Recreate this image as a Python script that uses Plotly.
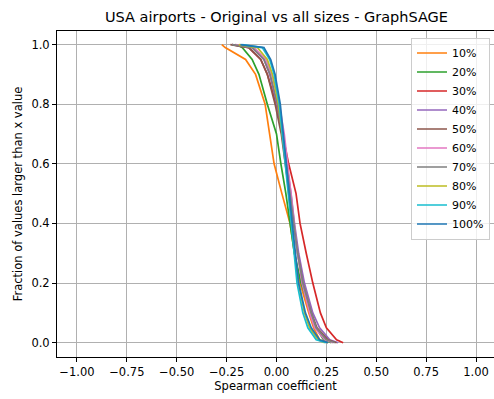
import plotly.graph_objects as go

levels = [1.0, 0.99, 0.95, 0.9, 0.8, 0.7, 0.6, 0.5, 0.4, 0.3, 0.2, 0.1, 0.05, 0.01, 0.0]

s10 = [-0.274, -0.257, -0.155, -0.105, -0.057, -0.034, -0.012, 0.027, 0.068, 0.090, 0.118, 0.162, 0.186, 0.216, 0.258]
s20 = [-0.206, -0.172, -0.122, -0.088, -0.046, 0.0, 0.022, 0.047, 0.068, 0.090, 0.123, 0.174, 0.199, 0.236, 0.275]
s30 = [-0.223, -0.139, -0.079, -0.046, 0.0, 0.030, 0.061, 0.098, 0.118, 0.149, 0.182, 0.220, 0.250, 0.301, 0.334]
s40 = [-0.223, -0.122, -0.063, -0.034, 0.002, 0.030, 0.051, 0.073, 0.090, 0.111, 0.140, 0.182, 0.216, 0.267, 0.309]
s50 = [-0.231, -0.139, -0.079, -0.046, -0.007, 0.024, 0.044, 0.064, 0.084, 0.106, 0.132, 0.174, 0.203, 0.258, 0.301]
s60 = [-0.206, -0.113, -0.054, -0.024, 0.014, 0.039, 0.056, 0.073, 0.088, 0.105, 0.128, 0.166, 0.191, 0.242, 0.284]
s70 = [-0.223, -0.122, -0.063, -0.032, 0.005, 0.030, 0.049, 0.068, 0.086, 0.106, 0.132, 0.174, 0.199, 0.250, 0.292]
s80 = [-0.189, -0.096, -0.046, -0.020, 0.010, 0.030, 0.047, 0.061, 0.076, 0.091, 0.110, 0.140, 0.166, 0.208, 0.242]
s90 = [-0.172, -0.071, -0.034, -0.012, 0.014, 0.030, 0.046, 0.059, 0.074, 0.088, 0.103, 0.132, 0.157, 0.199, 0.250]
s100 = [-0.181, -0.063, -0.029, -0.007, 0.019, 0.035, 0.051, 0.064, 0.079, 0.095, 0.111, 0.145, 0.174, 0.216, 0.258]

names = ["10%", "20%", "30%", "40%", "50%", "60%", "70%", "80%", "90%", "100%"]
series = [s10, s20, s30, s40, s50, s60, s70, s80, s90, s100]
colors = ["#ff7f0e", "#2ca02c", "#d62728", "#9467bd", "#8c564b",
          "#e377c2", "#7f7f7f", "#bcbd22", "#17becf", "#1f77b4"]

xticks = [-1.0, -0.75, -0.5, -0.25, 0.0, 0.25, 0.5, 0.75, 1.0]
yticks = [0.0, 0.2, 0.4, 0.6, 0.8, 1.0]

FONT = "DejaVu Sans"

fig = go.Figure()
for name, xs, c in zip(names, series, colors):
    fig.add_trace(go.Scatter(x=xs, y=levels, mode="lines", name=name,
                             line=dict(color=c, width=1.7)))

fig.update_layout(
    width=494, height=399,
    margin=dict(l=57, r=0, t=31, b=42, autoexpand=False),
    paper_bgcolor="white", plot_bgcolor="white",
    font=dict(family=FONT, size=11.5, color="#000"),
    title=dict(text="USA airports - Original vs all sizes - GraphSAGE",
               x=276.5 / 494, xanchor="center", y=1 - 17 / 399, yanchor="middle",
               font=dict(size=14.5, color="#000")),
    showlegend=True,
    legend=dict(x=(490 - 57) / 437, xanchor="right", y=0.98, yanchor="top",
                bgcolor="rgba(255,255,255,0.8)", bordercolor="#cccccc", borderwidth=1,
                font=dict(size=11), itemwidth=30, tracegroupgap=0),
)
fig.update_xaxes(range=[-1.1, 1.09], tickvals=xticks, tickformat=".2f", automargin=False,
                 showgrid=True, gridcolor="#b0b0b0", gridwidth=0.9,
                 showline=True, linecolor="#000", linewidth=1, mirror=True,
                 ticks="outside", ticklen=4, tickcolor="#000", zeroline=False,
                 title=dict(text="Spearman coefficient", font=dict(size=11.5), standoff=4))
fig.update_yaxes(range=[-0.048, 1.0455], tickvals=yticks, tickformat=".1f", automargin=False,
                 showgrid=True, gridcolor="#b0b0b0", gridwidth=0.9,
                 showline=True, linecolor="#000", linewidth=1,
                 ticks="outside", ticklen=4, tickcolor="#000", zeroline=False,
                 title=dict(text="Fraction of values larger than x value", font=dict(size=11.5), standoff=6))

fig.write_html("out.html", config={"displayModeBar": False},
               post_script="document.body.style.margin='0';document.body.style.overflow='hidden';")
